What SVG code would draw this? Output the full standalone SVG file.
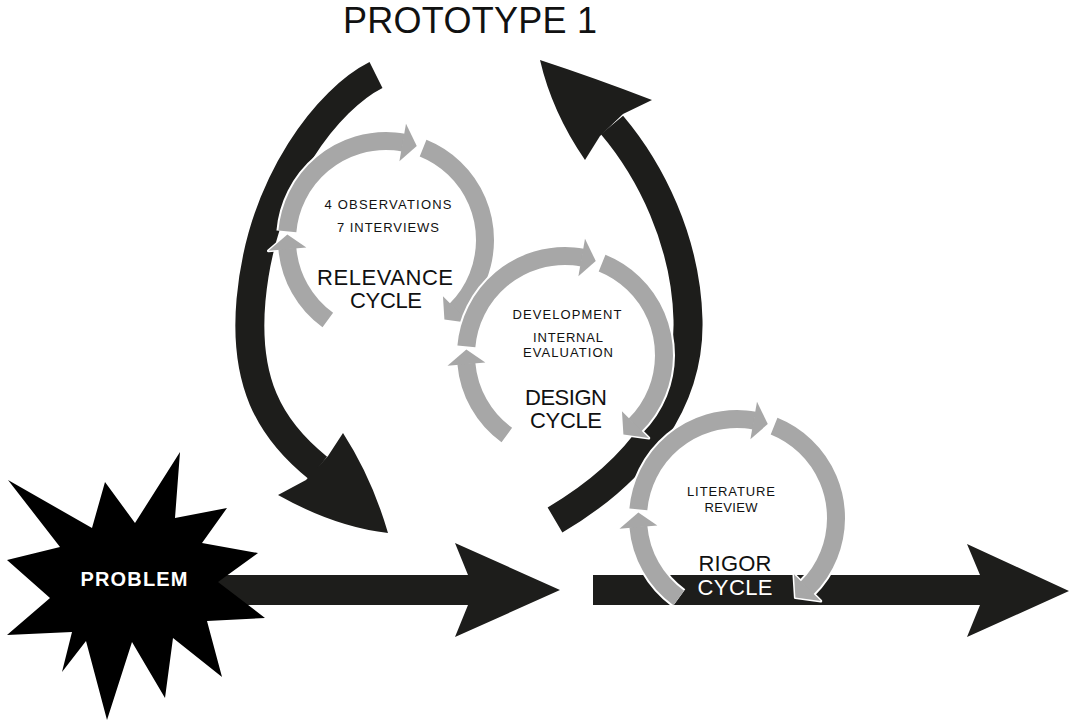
<svg xmlns="http://www.w3.org/2000/svg" xmlns:xlink="http://www.w3.org/1999/xlink" width="1070" height="720" viewBox="0 0 1070 720">
<style>
.blk{fill:#1d1d1b}
.arc{fill:none;stroke:#1d1d1b;stroke-width:29;stroke-linecap:butt}
.ow{fill:none;stroke:#fff;stroke-width:22}
.gb{fill:none;stroke:#a7a7a7;stroke-width:18}
.oh{fill:#fff;stroke:#fff;stroke-width:3;stroke-linejoin:round}
.gh{fill:#a7a7a7}
text{font-family:"Liberation Sans",Arial,Helvetica,sans-serif;text-anchor:middle;fill:#111}
.sm{font-size:13px}
.lg{font-size:22px}
</style>
<defs>
<g id="cyc">
 <circle class="ow" r="99" stroke-dasharray="84.67 600" transform="rotate(126)"/>
 <polygon class="oh" points="80,-0.5 118,-0.5 97.8,14" transform="rotate(175)"/>
 <circle class="gb" r="99" stroke-dasharray="84.67 600" transform="rotate(126)"/>
 <polygon class="gh" points="80,-0.5 118,-0.5 97.8,14" transform="rotate(175)"/>
 <circle class="ow" r="99" stroke-dasharray="164.15 600" transform="rotate(185)"/>
 <polygon class="oh" points="80,-0.5 118,-0.5 97.8,14" transform="rotate(280)"/>
 <circle class="gb" r="99" stroke-dasharray="164.15 600" transform="rotate(185)"/>
 <polygon class="gh" points="80,-0.5 118,-0.5 97.8,14" transform="rotate(280)"/>
 <circle class="ow" r="99" stroke-dasharray="195.25 600" transform="rotate(292)"/>
 <polygon class="oh" points="80,-0.5 118,-0.5 97.6,15" transform="rotate(45)"/>
 <circle class="gb" r="99" stroke-dasharray="195.25 600" transform="rotate(292)"/>
 <polygon class="gh" points="80,-0.5 118,-0.5 97.6,15" transform="rotate(45)"/>
</g>
</defs>
<rect width="1070" height="720" fill="#fff"/>

<g id="connectors">
 <polygon id="arrow-left" class="blk" points="200,575 468,575 455,543 560,590 455,637 468,605 200,605"/>
 <polygon id="arrow-right" class="blk" points="593,575 980,575 967,544 1069,591 967,637 980,605 593,605"/>
 <g id="arc-left">
  <path class="arc" d="M376,75 C330,98 262,180 251,300 C244,380 268,428 318,468"/>
  <path class="blk" d="M328,456 L343,433 Q372,478 388,533 Q335,527 278,495 L306,480 Z"/>
 </g>
 <g id="arc-right">
  <path class="arc" d="M555,520 C640,470 690,400 688,320 C686,240 650,170 612,125"/>
  <path class="blk" d="M623,114 L652,100 Q595,78 540,60 Q552,112 585,160 L600,136 Z"/>
 </g>
</g>

<g id="problem">
 <polygon fill="#000" points="105,482 135,523 180,452 175,518 227,508 202,543 258,553 218,582 265,618 207,621 222,677 173,638 165,698 132,642 107,720 86,641 62,672 72,632 7,635 50,598 7,560 60,547 8,480 92,528"/>
 <text x="134" y="586" style="font-size:20px;font-weight:bold;fill:#fff" textLength="107">PROBLEM</text>
</g>

<g id="relevance-cycle">
 <use xlink:href="#cyc" transform="translate(386,240)"/>
 <text class="sm" x="388" y="209" textLength="127">4 OBSERVATIONS</text>
 <text class="sm" x="388" y="232" textLength="102">7 INTERVIEWS</text>
 <text class="lg" x="385" y="285" textLength="136">RELEVANCE</text>
 <text class="lg" x="386" y="308" textLength="72">CYCLE</text>
</g>

<g id="design-cycle">
 <use xlink:href="#cyc" transform="translate(565,355)"/>
 <text class="sm" x="567" y="319" textLength="109">DEVELOPMENT</text>
 <text class="sm" x="568" y="342" textLength="70">INTERNAL</text>
 <text class="sm" x="568" y="357" textLength="90">EVALUATION</text>
 <text class="lg" x="566" y="405" textLength="82">DESIGN</text>
 <text class="lg" x="566" y="428" textLength="72">CYCLE</text>
</g>

<g id="rigor-cycle">
 <use xlink:href="#cyc" transform="translate(737,518)"/>
 <text class="sm" x="731" y="496" textLength="88">LITERATURE</text>
 <text class="sm" x="731" y="512" textLength="53">REVIEW</text>
 <text class="lg" x="735" y="571" textLength="73">RIGOR</text>
 <text class="lg" x="735" y="595" textLength="75" style="fill:#fff">CYCLE</text>
</g>

<g id="prototype">
 <text x="470" y="33" style="font-size:36px" textLength="254">PROTOTYPE 1</text>
</g>
</svg>
